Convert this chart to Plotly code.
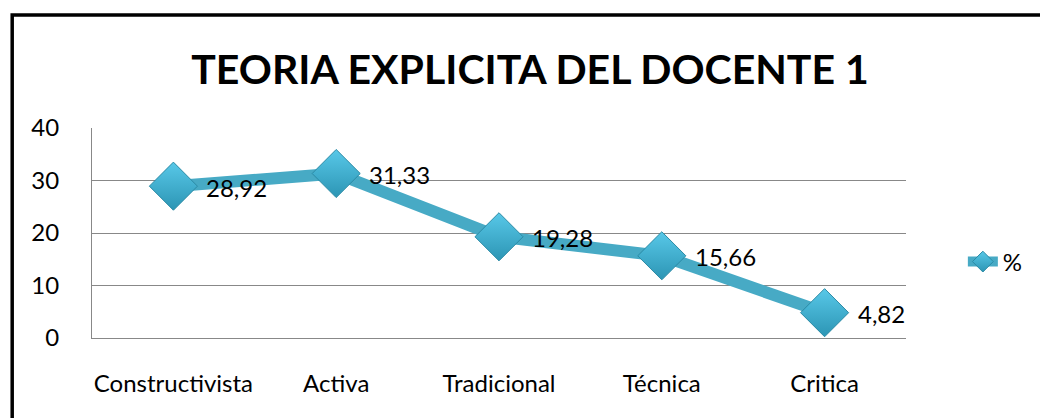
import plotly.graph_objects as go

categories = ["Constructivista", "Activa", "Tradicional", "Técnica", "Critica"]
values = [28.92, 31.33, 19.28, 15.66, 4.82]
labels = ["28,92", "31,33", "19,28", "15,66", "4,82"]
series_name = "%"
title = "TEORIA EXPLICITA DEL DOCENTE 1"
y_ticks = [0, 10, 20, 30, 40]

L, R, T, B = 92, 132, 128, 80
W, H = 1040, 418
pw, ph = W - L - R, H - T - B
FONT = "Lato, Open Sans, sans-serif"

def px_x(p):
    return (p - L) / pw

def px_y(p):
    return (H - B - p) / ph

fig = go.Figure()
fig.add_trace(go.Scatter(
    x=categories, y=values, name=series_name,
    mode="lines+markers",
    line=dict(color="#47AAC5", width=12),
    marker=dict(symbol="diamond", size=37, color="#58C8E8",
                gradient=dict(type="vertical", color="#2C95B4"),
                line=dict(color="#2A8AA5", width=1)),
    cliponaxis=False,
))

annotations = [
    dict(x=c, y=v, text=t, xref="x", yref="y", showarrow=False,
         xanchor="left", yanchor="middle", xshift=31, yshift=-1,
         font=dict(family=FONT, size=24, color="black"))
    for c, v, t in zip(categories, values, labels)
]

fig.update_layout(
    width=W, height=H,
    margin=dict(l=L, r=R, t=T, b=B),
    paper_bgcolor="white", plot_bgcolor="white",
    title=dict(text="<b>" + title + "</b>", x=530 / W, xanchor="center",
               y=1 - 70 / H, yanchor="middle",
               font=dict(family=FONT, size=41, color="black")),
    showlegend=True,
    legend=dict(x=px_x(965), y=px_y(262), xanchor="left", yanchor="middle",
                font=dict(family=FONT, size=24, color="black"),
                bgcolor="rgba(0,0,0,0)"),
    xaxis=dict(type="category", showgrid=False, showline=True, linecolor="#888888",
               linewidth=1, ticks="", tickfont=dict(family=FONT, size=24, color="black"),
               range=[-0.5, 4.5], ticklabelstandoff=24, zeroline=False),
    yaxis=dict(range=[0, 40], tickvals=y_ticks, showgrid=True, gridcolor="#888888",
               gridwidth=1, showline=True, linecolor="#888888", linewidth=1, ticks="",
               tickfont=dict(family=FONT, size=24, color="black"),
               ticklabelstandoff=27, zeroline=False),
    annotations=annotations,
    shapes=[
        dict(type="path", xref="paper", yref="paper",
             path=f"M {px_x(12)} {px_y(430)} L {px_x(12)} {px_y(15)} L {px_x(1050)} {px_y(15)}",
             line=dict(color="black", width=3.5)),
    ],
)

fig.write_html("out.html", config={"displayModeBar": False},
               post_script="document.body.style.margin='0';")
